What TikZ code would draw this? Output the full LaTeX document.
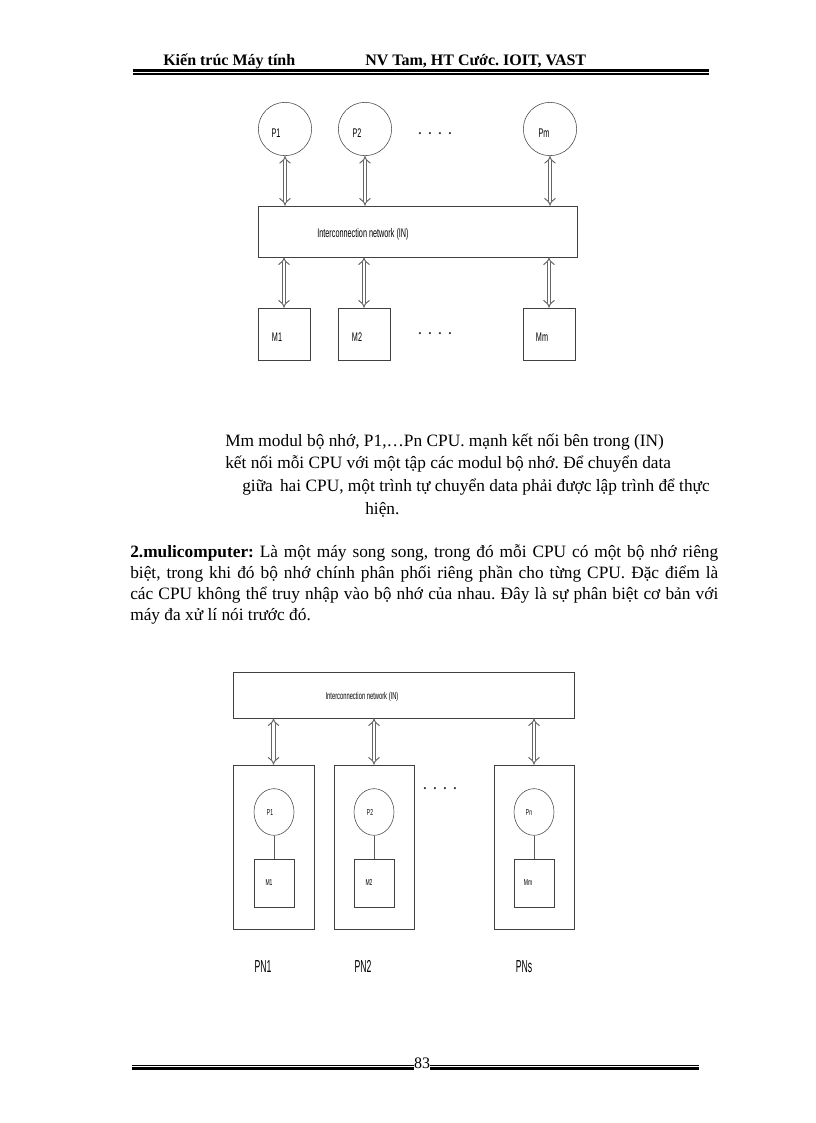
\documentclass[tikz,border=0pt]{standalone}
\usepackage{fontspec}
\setmainfont{Liberation Serif}
\newfontfamily\narrowfont[FakeStretch=0.58]{Liberation Sans}
\newfontfamily\pnfont[FakeStretch=0.5]{Liberation Sans}
\usetikzlibrary{arrows.meta,shapes.geometric}
\frenchspacing
\def\drawlink{\draw[color=black!60, line width=0.75pt, double=white, double distance=2.2pt, {Implies}-{Implies}]}
\def\drawwire{\draw[color=black!65, line width=0.6pt]}
\def\drawrule{\draw[color=black]}
\def\procnode{\node[circle,draw=black!75,minimum size=40pt,inner sep=0pt]}
\def\memnode{\node[rectangle,draw=black!75,minimum width=39pt,minimum height=39pt,inner sep=0pt]}
\def\smallproc{\node[ellipse,draw=black!75,minimum width=30pt,minimum height=35pt,inner sep=0pt]}
\def\smallmem{\node[rectangle,draw=black!75,minimum width=30pt,minimum height=36pt,inner sep=0pt]}
\def\netbox{\node[rectangle,draw=black!75,inner sep=0pt]}
\def\labfont{\narrowfont\fontsize{9.4}{9.4}\selectfont}
\def\tinyfont{\narrowfont\fontsize{6.5}{6.5}\selectfont}

\begin{document}
\begin{tikzpicture}[x=0.75pt,y=-0.75pt,
  tag/.style={font=\labfont,inner sep=0pt,anchor=base},
  smalltag/.style={font=\tinyfont,inner sep=0pt,anchor=base},
  pntag/.style={font=\pnfont\fontsize{13}{13}\selectfont,inner sep=0pt,anchor=base},
  dots/.style={font=\bfseries\fontsize{10}{10}\selectfont,inner sep=0pt,anchor=base,text=black!80},
  bodytext/.style={font=\fontsize{13}{17}\selectfont,inner sep=0pt}]
\useasboundingbox (0,0) rectangle (816,1123);

% ---------- page header ----------
\node[anchor=base west,inner sep=0pt,font=\bfseries\fontsize{12}{14}\selectfont] (title) at (163,66) {Kiến trúc Máy tính};
\node[anchor=base west,inner sep=0pt,font=\bfseries\fontsize{12}{14}\selectfont] (authors) at (365,66) {NV Tam, HT Cước. IOIT, VAST};
\drawrule[line width=2pt] (133,70.7) -- (709,70.7);
\drawrule[line width=0.8pt] (133,74) -- (709,74);

% ---------- shared memory: processors, network, memories ----------
\procnode (P1) at (285,129) {};
\procnode (P2) at (365,129) {};
\procnode (Pm) at (550,129) {};
\node[tag] (P1t) at (276,137.5) {P1};
\node[tag] (P2t) at (357,137.5) {P2};
\node[tag] (Pmt) at (544,137.5) {Pm};
\netbox[minimum width=239.25pt,minimum height=38.25pt] (IN) at (417.5,231.5) {};
\node[tag] (INt) at (363,237.5) {Interconnection network (IN)};
\memnode (M1) at (284,334) {};
\memnode (M2) at (364,334) {};
\memnode (Mm) at (549,334) {};
\node[tag] (M1t) at (277,341.5) {M1};
\node[tag] (M2t) at (357,341.5) {M2};
\node[tag] (Mmt) at (542,341.5) {Mm};
\node[dots] (dtop) at (435,135) {.\hspace{5pt}.\hspace{5pt}.\hspace{5pt}.};
\node[dots] (dbot) at (435,334) {.\hspace{5pt}.\hspace{5pt}.\hspace{5pt}.};
% links up to the processors and down to the memories
\drawlink (P1.south) -- (P1.south |- IN.north);
\drawlink (P2.south) -- (P2.south |- IN.north);
\drawlink (Pm.south) -- (Pm.south |- IN.north);
\drawlink (M1.north |- IN.south) -- (M1.north);
\drawlink (M2.north |- IN.south) -- (M2.north);
\drawlink (Mm.north |- IN.south) -- (Mm.north);

% ---------- the text between the two pictures ----------
\node[bodytext,anchor=base west,align=left] (note) at (225,514)
  {Mm modul bộ nhớ, P1,…Pn CPU. mạnh kết nối bên trong (IN)\\
   kết nối mỗi CPU với một tập các modul bộ nhớ. Để chuyển data\\
   \hspace*{12.75pt}giữa\, hai CPU, một trình tự chuyển data phải được lập trình để thực\\
   \hspace*{105pt}hiện.};
\node[bodytext,font=\fontsize{13}{15.75}\selectfont,anchor=base west,text width=441pt,align=justify] (para) at (130,557)
  {\textbf{2.mulicomputer:}~Là một máy song song, trong đó mỗi CPU có một bộ nhớ riêng\linebreak
   biệt, trong khi đó bộ nhớ chính phân phối riêng phần cho từng CPU. Đặc điểm là\linebreak
   các CPU không thể truy nhập vào bộ nhớ của nhau. Đây là sự phân biệt cơ bản với\linebreak
   máy đa xử lí nói trước đó.};

% ---------- multicomputer: network over processing nodes ----------
\netbox[minimum width=255.75pt,minimum height=34.5pt] (2IN) at (403.5,695) {};
\node[smalltag,font=\narrowfont\fontsize{7.5}{7.5}\selectfont] (2INt) at (362,699.5) {Interconnection network (IN)};
\netbox[minimum width=60.75pt,minimum height=123pt] (PN1) at (273.5,847) {};
\netbox[minimum width=60pt,minimum height=123pt] (PN2) at (374,847) {};
\netbox[minimum width=60pt,minimum height=123pt] (PNs) at (534,847) {};
\smallproc (2P1) at (274,812) {};
\smallproc (2P2) at (374,812) {};
\smallproc (2Pn) at (534,812) {};
\smallmem (2M1) at (274,883) {};
\smallmem (2M2) at (374,883) {};
\smallmem (2Mm) at (534,883) {};
\node[smalltag] (2P1t) at (270,815) {P1};
\node[smalltag] (2P2t) at (370,815) {P2};
\node[smalltag] (2Pnt) at (529,815) {Pn};
\node[smalltag] (2M1t) at (269,885.5) {M1};
\node[smalltag] (2M2t) at (369,885.5) {M2};
\node[smalltag] (2Mmt) at (528,885.5) {Mm};
\drawwire (2P1.south) -- (2M1.north);
\drawwire (2P2.south) -- (2M2.north);
\drawwire (2Pn.south) -- (2Mm.north);
\drawlink (PN1.north |- 2IN.south) -- (PN1.north);
\drawlink (PN2.north |- 2IN.south) -- (PN2.north);
\drawlink (PNs.north |- 2IN.south) -- (PNs.north);
\node[dots] (dmid) at (440,789) {.\hspace{5pt}.\hspace{5pt}.\hspace{5pt}.};
\node[pntag] (PN1t) at (263,972) {PN1};
\node[pntag] (PN2t) at (363,972) {PN2};
\node[pntag] (PNst) at (524,972) {PNs};

% ---------- page footer ----------
\node[anchor=base,inner sep=0pt,font=\fontsize{12}{14}\selectfont] (pageno) at (422,1068) {83};
\drawrule[line width=0.7pt] (132,1065) -- (pageno.west |- 0,1065);
\drawrule[line width=1.8pt] (132,1068.5) -- (pageno.west |- 0,1068.5);
\drawrule[line width=0.7pt] (pageno.east |- 0,1065) -- (699,1065);
\drawrule[line width=1.8pt] (pageno.east |- 0,1068.5) -- (699,1068.5);
\end{tikzpicture}
\end{document}
